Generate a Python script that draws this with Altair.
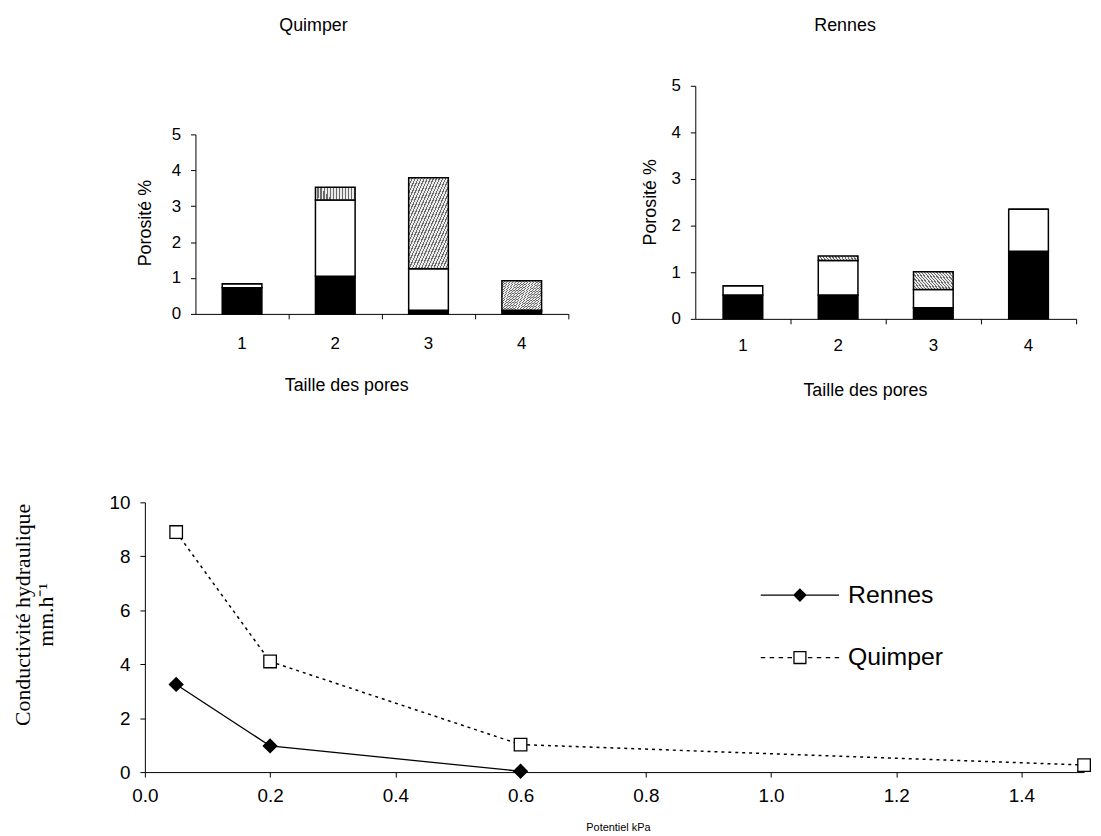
import altair as alt
import pandas as pd

# ---------------- data ----------------
pore_sizes = ["1", "2", "3", "4"]
segments = ["noir", "blanc", "hachure"]

quimper_black = [0.73, 1.05, 0.10, 0.07]
quimper_white = [0.11, 2.12, 1.16, 0.03]
quimper_hatched = [0.00, 0.36, 2.53, 0.82]

rennes_black = [0.51, 0.51, 0.24, 1.45]
rennes_white = [0.20, 0.74, 0.39, 0.90]
rennes_hatched = [0.00, 0.10, 0.38, 0.00]

potentiel_rennes = [0.05, 0.2, 0.6]
conduct_rennes = [3.25, 0.97, 0.03]
potentiel_quimper = [0.05, 0.2, 0.6, 1.5]
conduct_quimper = [8.9, 4.1, 1.02, 0.26]

x_ticks = [0.0, 0.2, 0.4, 0.6, 0.8, 1.0, 1.2, 1.4]
y_ticks_line = [0, 2, 4, 6, 8, 10]
y_ticks_bar = [0, 1, 2, 3, 4, 5]
sites = ["Rennes", "Quimper"]


def bar_frame(black, white, hatched):
    rows = []
    for i, t in enumerate(pore_sizes):
        for k, (seg, vals) in enumerate(zip(segments, [black, white, hatched])):
            rows.append({"taille": t, "seg": seg, "order": k, "value": vals[i]})
    return pd.DataFrame(rows)


# hatch look-alike: fine diagonal stripes
stops = []
n_stripes = 26
for i in range(n_stripes):
    a = i / n_stripes
    b = (i + 0.4) / n_stripes
    c = (i + 1) / n_stripes
    stops += [
        {"offset": a, "color": "#6a6a6a"},
        {"offset": b, "color": "#6a6a6a"},
        {"offset": b, "color": "#ebebeb"},
        {"offset": c, "color": "#ebebeb"},
    ]
hatch = alt.Gradient(gradient="linear", stops=stops, x1=0, y1=0, x2=1, y2=1)

FONT = "Liberation Sans"


def bar_chart(df, width, height, yrange, title, title_dx, title_offset,
              label_pad, xtitle_x, ytitle_x, ytitle_y):
    base = alt.Chart(df).transform_stack(
        stack="value", groupby=["taille"], sort=[alt.SortField("order")],
        as_=["y0", "y1"],
    ).encode(
        x=alt.X("taille:N", sort=pore_sizes,
                scale=alt.Scale(paddingInner=0, paddingOuter=0),
                axis=alt.Axis(title="Taille des pores", bandPosition=1,
                              labelAngle=0, labelFontSize=17,
                              labelPadding=label_pad, titleX=xtitle_x,
                              titleY=72, titleBaseline="middle",
                              titleAlign="center")),
        y=alt.Y("y0:Q", scale=alt.Scale(domain=[0, 5], range=yrange, nice=False),
                axis=alt.Axis(title="Porosité %", values=y_ticks_bar,
                              labelFontSize=17, labelPadding=10,
                              titleX=ytitle_x, titleY=ytitle_y,
                              titleBaseline="middle", titleAlign="center",
                              titleAngle=270)),
        y2="y1:Q",
    )
    black = base.transform_filter(alt.datum.seg == "noir").mark_bar(
        size=40, fill="black", stroke="black", strokeWidth=1.5)
    white = base.transform_filter(alt.datum.seg == "blanc").mark_bar(
        size=40, fill="white", stroke="black", strokeWidth=1.5)
    hatched = base.transform_filter(alt.datum.seg == "hachure").mark_bar(
        size=40, fill=hatch, stroke="black", strokeWidth=1.5)
    return alt.layer(black, white, hatched).properties(
        width=width, height=height,
        title=alt.TitleParams(title, fontSize=18, font=FONT, fontWeight="normal",
                              anchor="middle", dx=title_dx, offset=title_offset,
                              baseline="alphabetic", color="black"),
    )


quimper = bar_chart(bar_frame(quimper_black, quimper_white, quimper_hatched),
                    376, 230, [230, 49], "Quimper", -69, 37, 17, 152, -50, 138)
rennes = bar_chart(bar_frame(rennes_black, rennes_white, rennes_hatched),
                   384, 235, [235, 0], "Rennes", -41, 28, 14, 171, -45, 117)

spacer = alt.Chart(alt.Data(values=[{"a": 1}])).mark_text(text="").encode(
    x=alt.value(0)).properties(width=51, height=10)

# ---------------- line chart ----------------
df_r = pd.DataFrame({"x": potentiel_rennes, "y": conduct_rennes, "site": "Rennes"})
df_q = pd.DataFrame({"x": potentiel_quimper, "y": conduct_quimper, "site": "Quimper"})

X = alt.X("x:Q", scale=alt.Scale(domain=[0, 1.5], nice=False),
          axis=alt.Axis(values=x_ticks, format=".1f", title="Potentiel kPa",
                        titleFontSize=11, titleX=477, titleY=56,
                        titleBaseline="middle", titleAlign="center",
                        labelFontSize=19, labelPadding=10, labelFlush=False))
Y = alt.Y("y:Q", scale=alt.Scale(domain=[0, 10], nice=False),
          axis=alt.Axis(values=y_ticks_line, labelPadding=10, labelFontSize=19,
                        labelFlush=False,
                        title=["Conductivité hydraulique", "mm.h\u207b\u00b9"],
                        titleFont="Liberation Serif", titleFontSize=22,
                        titleLineHeight=23, titleX=-123, titleY=113,
                        titleAngle=270, titleAlign="center",
                        titleBaseline="middle"))

line_r = alt.Chart(df_r).mark_line(color="black", strokeWidth=1.3).encode(x=X, y=Y)
line_q = alt.Chart(df_q).mark_line(color="black", strokeWidth=1.5,
                                   strokeDash=[3, 4]).encode(x=X, y=Y)
pts_r = alt.Chart(df_r).mark_point(shape="diamond", filled=True, fill="black",
                                   stroke="black", size=160, opacity=1).encode(x=X, y=Y)
pts_q = alt.Chart(df_q).mark_point(shape="square", filled=True, fill="white",
                                   stroke="black", strokeWidth=1.3, size=160,
                                   opacity=1).encode(x=X, y=Y)

path_r = "M-3.95,0H-0.6M0.6,0H3.95M0,-0.6L0.6,0L0,0.6L-0.6,0Z"
path_q = ("M-3.95,0H-3.5M-3.05,0H-2.6M-2.15,0H-1.7M-1.25,0H-0.8"
          "M0.8,0H1.25M1.7,0H2.15M2.6,0H3.05M3.5,0H3.95"
          "M-0.6,-0.6H0.6V0.6H-0.6Z")
leg = alt.Legend(orient="none", legendX=648, legendY=501, title=None,
                 labelFontSize=25, labelFont=FONT, labelColor="black",
                 symbolSize=400, symbolStrokeColor="black",
                 symbolStrokeWidth=1.3, symbolOpacity=1, labelOffset=36,
                 rowPadding=37, padding=0)
legend_layer = alt.Chart(pd.DataFrame({"site": sites})).transform_filter(
    "false").mark_point(filled=True, stroke="black", opacity=1).encode(
    shape=alt.Shape("site:N", scale=alt.Scale(domain=sites, range=[path_r, path_q]),
                    legend=leg),
    fill=alt.Fill("site:N", scale=alt.Scale(domain=sites, range=["black", "white"]),
                  legend=leg),
    stroke=alt.Stroke("site:N", scale=alt.Scale(domain=sites, range=["black", "black"]),
                      legend=leg),
)

line_chart = alt.layer(line_q, line_r, pts_q, pts_r, legend_layer).properties(
    width=947, height=272)

# nested flush concats count as zero size, hence the spacings below
top_inner = alt.hconcat(spacer, quimper, spacing=0, bounds="flush")
top = alt.hconcat(top_inner, rennes, spacing=555, bounds="flush")

chart = alt.vconcat(top, line_chart, spacing=420, bounds="flush").properties(
    padding={"left": 3, "top": 6, "right": 0, "bottom": 0},
).configure_view(stroke=None).configure_axis(
    domainColor="black", tickColor="black", labelColor="black", titleColor="black",
    labelFont=FONT, titleFont=FONT, labelFontSize=16, titleFontSize=18,
    titleFontWeight="normal", grid=False, tickSize=5, domainWidth=1, tickWidth=1,
)

chart.save("out.html", embed_options={"renderer": "svg", "actions": False})
